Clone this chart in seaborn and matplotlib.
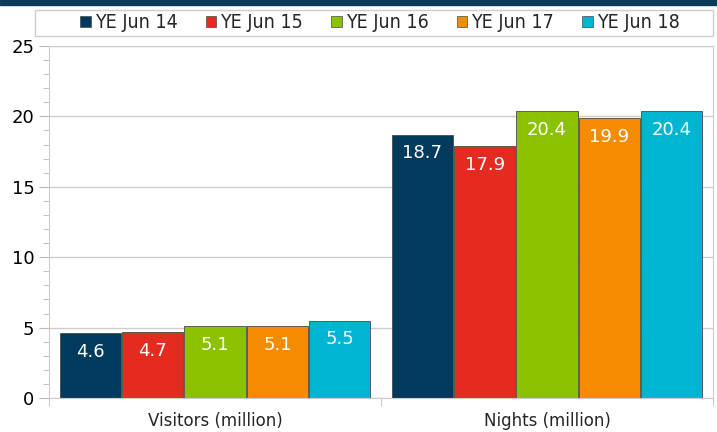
import matplotlib
matplotlib.use("Agg")
import matplotlib.pyplot as plt
from matplotlib.patches import Rectangle
import seaborn as sns
import pandas as pd

categories = ["Visitors (million)", "Nights (million)"]
years = ["YE Jun 14", "YE Jun 15", "YE Jun 16", "YE Jun 17", "YE Jun 18"]
visitors = [4.6, 4.7, 5.1, 5.1, 5.5]
nights = [18.7, 17.9, 20.4, 19.9, 20.4]
colors = ["#003a5d", "#e52a20", "#8cc100", "#f58b00", "#00b5d1"]

rows = []
for i, yr in enumerate(years):
    rows.append({"measure": categories[0], "year": yr, "value": visitors[i]})
    rows.append({"measure": categories[1], "year": yr, "value": nights[i]})
df = pd.DataFrame(rows)

sns.set_style("white")
plt.rcParams["font.family"] = ["DejaVu Sans"]

fig = plt.figure(figsize=(7.17, 4.32), dpi=100)
ax = fig.add_axes([49 / 717, 34 / 432, 664 / 717, 352 / 432])

sns.barplot(data=df, x="measure", y="value", hue="year", order=categories,
            hue_order=years, palette=colors, saturation=1, width=0.94, gap=0.02,
            edgecolor="#4a4a4a", linewidth=0.6, legend=False, ax=ax)

for cont in ax.containers:
    ax.bar_label(cont, fmt="%.1f", padding=-20, color="white", fontsize=13)

ax.set_ylim(0, 25)
ax.set_xlim(-0.5, 1.5)
ax.set_yticks([0, 5, 10, 15, 20, 25])
ax.set_yticks(range(0, 26), minor=True)
ax.set_xticks([-0.5, 0.5, 1.5], minor=True)
ax.tick_params(axis="y", which="major", length=7, color="#bbbbbb", left=True,
               labelsize=13, colors="#bbbbbb", labelcolor="black")
ax.tick_params(axis="y", which="minor", length=4, color="#bbbbbb", left=True)
ax.tick_params(axis="x", which="major", length=0, labelsize=12, pad=10)
ax.tick_params(axis="x", which="minor", length=6, color="#bbbbbb", bottom=True)
ax.grid(axis="y", which="major", color="#cccccc", linewidth=1)
ax.set_axisbelow(True)
for s in ax.spines.values():
    s.set_color("#cccccc")
ax.set_xlabel("")
ax.set_ylabel("")

# dark band at top
fig.patches.append(Rectangle((0, 1 - 5 / 432), 1, 5 / 432, transform=fig.transFigure,
                             color="#0c3b5a", zorder=5))
# legend frame
fig.patches.append(Rectangle((35 / 717, 1 - 36 / 432), 678 / 717, 26 / 432,
                             transform=fig.transFigure, facecolor="white",
                             edgecolor="#cccccc", linewidth=1, zorder=1))

handles = [Rectangle((0, 0), 1, 1, facecolor=c, edgecolor="#4a4a4a", linewidth=0.5)
           for c in colors]
fig.legend(handles, years, loc="center", ncol=5, frameon=False,
           bbox_to_anchor=(380 / 717, 1 - 23 / 432),
           prop={"family": "DejaVu Sans", "stretch": "condensed", "size": 14},
           handlelength=0.55, handleheight=0.55, handletextpad=0.2,
           columnspacing=1.45)

fig.savefig("out.png", dpi=100)
